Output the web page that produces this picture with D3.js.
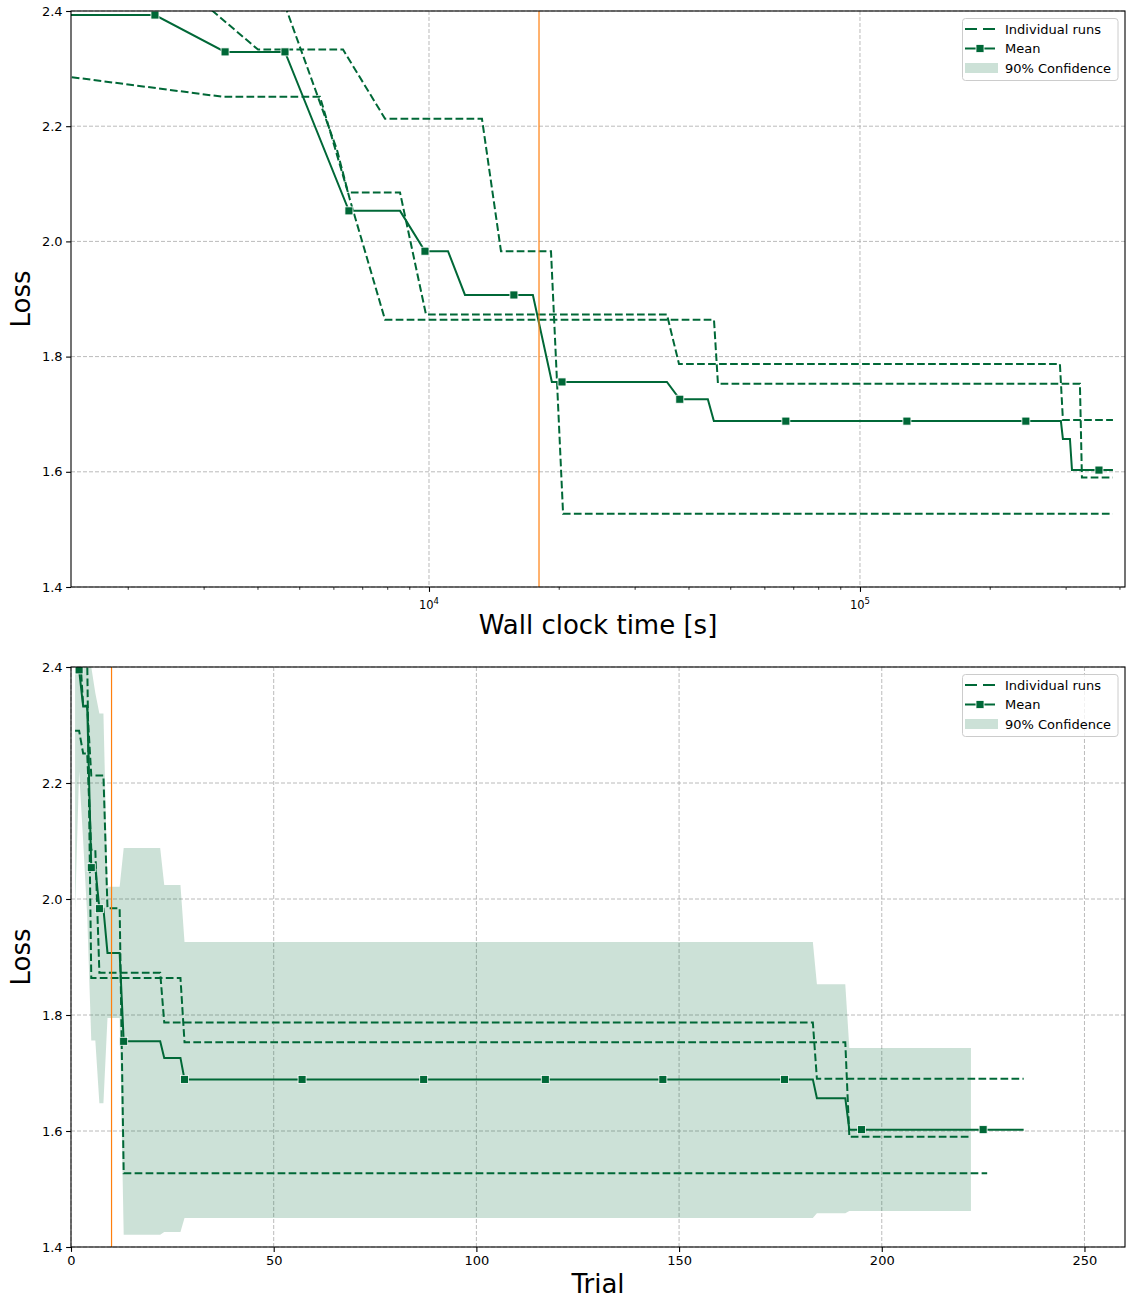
<!DOCTYPE html>
<html>
<head>
<meta charset="utf-8">
<script src="https://cdn.jsdelivr.net/npm/d3@7"></script>
<style>
body { margin: 0; background: #fff; }
svg { font-family: "DejaVu Sans", sans-serif; }
</style>
</head>
<body>
<div id="canvas"></div>
<script>
// ---------- data ----------
var lossTicks = [1.4, 1.6, 1.8, 2.0, 2.2, 2.4];
var timeTicks = [1e4, 1e5];
var trialTicks = [0, 50, 100, 150, 200, 250];

// top panel: vertices (wall clock time [s], loss)
var runATime = [1320, 3327, 5586, 6486, 8566, 9841, 35650, 38030, 291000, 295700, 386300];
var runALoss = [2.29, 2.251, 2.251, 2.085, 2.085, 1.873, 1.873, 1.787, 1.787, 1.69, 1.69];
var runBTime = [2506, 4011, 6318, 7907, 13270, 14690, 19190, 20470, 386300];
var runBLoss = [2.463, 2.333, 2.333, 2.213, 2.213, 1.983, 1.983, 1.527, 1.527];
var runCTime = [4276, 6116, 6557, 7907, 45840, 46820, 323800, 327300, 386300];
var runCLoss = [2.482, 2.159, 2.072, 1.864, 1.864, 1.753, 1.753, 1.59, 1.59];
var meanTime = [1000, 2313, 3364, 4633, 6520, 8566, 9789, 11070, 12120, 17420, 19280, 35650, 38190, 44360, 45810, 292500, 295700, 307000, 310400, 386300];
var meanLoss = [2.393, 2.393, 2.329, 2.329, 2.053, 2.053, 1.983, 1.983, 1.907, 1.907, 1.756, 1.756, 1.726, 1.726, 1.688, 1.688, 1.657, 1.657, 1.603, 1.603];
var meanMarkTime = [2313, 3364, 4633, 6520, 9789, 15740, 20350, 38190, 67300, 128500, 242600, 358500];
var cutoffTime = 18000;

// bottom panel: best loss per trial, given as change points (trial where a value starts)
var runAChange = [1, 3, 5, 7, 23, 184];
var runAVal = [2.29, 2.251, 2.085, 1.873, 1.787, 1.69];
var runALast = 235;
var runBChange = [1, 2, 3, 5, 9, 13];
var runBVal = [2.9, 2.45, 2.333, 2.213, 1.984, 1.527];
var runBLast = 226;
var runCChange = [1, 2, 3, 5, 28, 192];
var runCVal = [2.6, 2.445, 2.412, 1.864, 1.753, 1.59];
var runCLast = 222;
var bandLowChange = [1, 2, 3, 4, 5, 7, 9, 13, 23, 28, 184, 192];
var bandLowVal = [1.976, 2.22, 2.10, 1.97, 1.756, 1.648, 1.795, 1.421, 1.426, 1.45, 1.458, 1.462];
var bandHighChange = [1, 4, 5, 6, 7, 9, 13, 23, 28, 184, 192];
var bandHighVal = [2.6, 2.45, 2.40, 2.355, 2.32, 2.021, 2.088, 2.024, 1.926, 1.853, 1.743];
var bandLast = 222;
var meanLast = 235;
var meanMarkTrial = [2, 5, 7, 13, 28, 57, 87, 117, 146, 176, 195, 225];
var cutoffTrial = 10;

// ---------- helpers ----------
var green = "#006837", orange = "#ff7f0e";
var L = 71, R = 1125;

var svg = d3.select("#canvas").append("svg")
    .attr("width", 1127)
    .attr("height", 1300);

function steps(change, vals, last) {
    var out = [], k = 0;
    for (var t = change[0]; t <= last; t++) {
        while (k + 1 < change.length && change[k + 1] <= t) k++;
        out.push({x: t, y: vals[k]});
    }
    return out;
}

function zipXY(xs, ys) {
    return xs.map((v, i) => ({x: v, y: ys[i]}));
}

function frame(top, bottom, id) {
    var g = svg.append("g");
    g.append("clipPath").attr("id", id)
        .append("rect").attr("x", L).attr("y", top).attr("width", R - L).attr("height", bottom - top);
    return g;
}

function grid(g, x, y, xs, top, bottom) {
    lossTicks.forEach(function(v) {
        g.append("line").attr("x1", L).attr("x2", R).attr("y1", y(v)).attr("y2", y(v))
            .attr("stroke", "#b0b0b0").attr("stroke-width", 1).attr("stroke-dasharray", "4,2").attr("opacity", 0.85);
    });
    xs.forEach(function(v) {
        g.append("line").attr("x1", x(v)).attr("x2", x(v)).attr("y1", top).attr("y2", bottom)
            .attr("stroke", "#b0b0b0").attr("stroke-width", 1).attr("stroke-dasharray", "4,2").attr("opacity", 0.85);
    });
}

function drawRun(g, line, pts, clip) {
    g.append("path").datum(pts)
        .attr("d", line)
        .attr("clip-path", "url(#" + clip + ")")
        .attr("fill", "none")
        .attr("stroke", green)
        .attr("stroke-width", 2)
        .attr("stroke-dasharray", "7.7,3.3");
}

function drawMean(g, line, pts, marks, clip) {
    g.append("path").datum(pts)
        .attr("d", line)
        .attr("clip-path", "url(#" + clip + ")")
        .attr("fill", "none")
        .attr("stroke", green)
        .attr("stroke-width", 2);
    g.append("g").attr("clip-path", "url(#" + clip + ")")
        .selectAll("rect").data(marks).enter().append("rect")
        .attr("x", d => d[0] - 4)
        .attr("y", d => d[1] - 4)
        .attr("width", 8).attr("height", 8)
        .attr("fill", green)
        .attr("stroke", "#fff")
        .attr("stroke-width", 0.8);
}

function yAxis(g, y) {
    var ax = g.append("g").attr("transform", "translate(" + L + ",0)")
        .call(d3.axisLeft(y).tickValues(lossTicks).tickSize(4.9).tickPadding(3.5).tickFormat(d3.format(".1f")));
    ax.select(".domain").remove();
    ax.selectAll("line").attr("stroke", "#000").attr("stroke-width", 1.1);
    ax.selectAll("text").attr("font-size", 13).attr("fill", "#000").attr("font-family", "DejaVu Sans");
}

function spines(g, top, bottom) {
    g.append("rect").attr("x", L).attr("y", top).attr("width", R - L).attr("height", bottom - top)
        .attr("fill", "none").attr("stroke", "#000").attr("stroke-width", 1.1);
}

function legend(g, top) {
    var lg = g.append("g");
    lg.append("rect").attr("x", 962.5).attr("y", top + 7.5).attr("width", 155.5).attr("height", 62)
        .attr("rx", 3).attr("fill", "#fff").attr("fill-opacity", 0.8).attr("stroke", "#cccccc").attr("stroke-width", 1);
    var r1 = top + 18, r2 = top + 37.5, r3 = top + 57;
    lg.append("line").attr("x1", 965).attr("x2", 995).attr("y1", r1).attr("y2", r1)
        .attr("stroke", green).attr("stroke-width", 2).attr("stroke-dasharray", "12,6");
    lg.append("line").attr("x1", 965).attr("x2", 995).attr("y1", r2).attr("y2", r2)
        .attr("stroke", green).attr("stroke-width", 2);
    lg.append("rect").attr("x", 976).attr("y", r2 - 4).attr("width", 8).attr("height", 8)
        .attr("fill", green).attr("stroke", "#fff").attr("stroke-width", 0.8);
    lg.append("rect").attr("x", 965).attr("y", r3 - 5).attr("width", 33).attr("height", 10)
        .attr("fill", green).attr("fill-opacity", 0.2);
    [["Individual runs", r1], ["Mean", r2], ["90% Confidence", r3]].forEach(function(e) {
        lg.append("text").attr("x", 1005).attr("y", e[1]).attr("dy", "0.35em")
            .attr("font-size", 13).attr("fill", "#000").text(e[0]);
    });
}

function yLabel(g, cy) {
    g.append("text").attr("transform", "translate(30," + cy + ") rotate(-90)")
        .attr("text-anchor", "middle").attr("font-size", 26).attr("fill", "#000").text("Loss");
}

// ---------- top panel: wall clock time ----------
var tTop = 11, tBot = 587;
var xT = d3.scaleLog().domain([1477, 412000]).range([L, R]);
var yT = d3.scaleLinear().domain([1.4, 2.4]).range([tBot, tTop]);
var gT = frame(tTop, tBot, "clipTop");
grid(gT, xT, yT, timeTicks, tTop, tBot);

var lineT = d3.line().x(d => xT(d.x)).y(d => yT(d.y));
drawRun(gT, lineT, zipXY(runATime, runALoss), "clipTop");
drawRun(gT, lineT, zipXY(runBTime, runBLoss), "clipTop");
drawRun(gT, lineT, zipXY(runCTime, runCLoss), "clipTop");

function meanAtTime(t) {
    for (var i = 0; i < meanTime.length - 1; i++) {
        if (t >= meanTime[i] && t <= meanTime[i + 1]) {
            var f = (Math.log10(t) - Math.log10(meanTime[i])) / (Math.log10(meanTime[i + 1]) - Math.log10(meanTime[i]));
            return meanLoss[i] + f * (meanLoss[i + 1] - meanLoss[i]);
        }
    }
    return meanLoss[meanLoss.length - 1];
}
drawMean(gT, lineT, zipXY(meanTime, meanLoss), meanMarkTime.map(t => [xT(t), yT(meanAtTime(t))]), "clipTop");

gT.append("line").attr("x1", xT(cutoffTime)).attr("x2", xT(cutoffTime)).attr("y1", tTop).attr("y2", tBot)
    .attr("stroke", orange).attr("stroke-width", 1.2);

yAxis(gT, yT);
var minor = [];
[1e3, 1e4, 1e5].forEach(function(dec) {
    for (var m = 2; m <= 9; m++) {
        var v = dec * m;
        if (v > 1477 && v < 412000) minor.push(v);
    }
});
var axMinor = gT.append("g").attr("transform", "translate(0," + tBot + ")")
    .call(d3.axisBottom(xT).tickValues(minor).tickSize(2.8).tickFormat(""));
axMinor.select(".domain").remove();
axMinor.selectAll("line").attr("stroke", "#000").attr("stroke-width", 0.8);
var axMajor = gT.append("g").attr("transform", "translate(0," + tBot + ")")
    .call(d3.axisBottom(xT).tickValues(timeTicks).tickSize(4.9).tickFormat(""));
axMajor.select(".domain").remove();
axMajor.selectAll("line").attr("stroke", "#000").attr("stroke-width", 1.1);
timeTicks.forEach(function(v) {
    var t = gT.append("text").attr("x", xT(v)).attr("y", tBot + 22).attr("text-anchor", "middle")
        .attr("font-size", 11.5).attr("fill", "#000");
    t.append("tspan").text("10");
    t.append("tspan").attr("dy", -5).attr("font-size", 8.5).text(Math.round(Math.log10(v)));
});
gT.append("text").attr("x", (L + R) / 2).attr("y", 634).attr("text-anchor", "middle")
    .attr("font-size", 26).attr("fill", "#000").text("Wall clock time [s]");
yLabel(gT, (tTop + tBot) / 2);
spines(gT, tTop, tBot);
legend(gT, tTop);

// ---------- bottom panel: trial ----------
var bTop = 667, bBot = 1247;
var xB = d3.scaleLinear().domain([0, 260]).range([L, R]);
var yB = d3.scaleLinear().domain([1.4, 2.4]).range([bBot, bTop]);
var gB = frame(bTop, bBot, "clipBot");
grid(gB, xB, yB, trialTicks, bTop, bBot);

var low = steps(bandLowChange, bandLowVal, bandLast);
var high = steps(bandHighChange, bandHighVal, bandLast);
var band = low.map((d, i) => ({x: d.x, lo: d.y, hi: high[i].y}));
gB.append("path").datum(band)
    .attr("clip-path", "url(#clipBot)")
    .attr("d", d3.area().x(d => xB(d.x)).y0(d => yB(d.lo)).y1(d => yB(d.hi)))
    .attr("fill", green).attr("fill-opacity", 0.2);

var runA = steps(runAChange, runAVal, runALast);
var runB = steps(runBChange, runBVal, runBLast);
var runC = steps(runCChange, runCVal, runCLast);
var lineB = d3.line().x(d => xB(d.x)).y(d => yB(d.y));
drawRun(gB, lineB, runA, "clipBot");
drawRun(gB, lineB, runB, "clipBot");
drawRun(gB, lineB, runC, "clipBot");

// mean over runs, each run padded with its final value
var runs = [runA, runB, runC];
var meanB = d3.range(1, meanLast + 1).map(t => ({x: t, y: d3.mean(runs, r => r[Math.min(t, r.length) - 1].y)}));
drawMean(gB, lineB, meanB, meanMarkTrial.map(t => [xB(t), yB(meanB[t - 1].y)]), "clipBot");

gB.append("line").attr("x1", xB(cutoffTrial)).attr("x2", xB(cutoffTrial)).attr("y1", bTop).attr("y2", bBot)
    .attr("stroke", orange).attr("stroke-width", 1.2);

yAxis(gB, yB);
var axB = gB.append("g").attr("transform", "translate(0," + bBot + ")")
    .call(d3.axisBottom(xB).tickValues(trialTicks).tickSize(4.9).tickPadding(3.5));
axB.select(".domain").remove();
axB.selectAll("line").attr("stroke", "#000").attr("stroke-width", 1.1);
axB.selectAll("text").attr("font-size", 13).attr("fill", "#000").attr("font-family", "DejaVu Sans");
gB.append("text").attr("x", (L + R) / 2).attr("y", 1293).attr("text-anchor", "middle")
    .attr("font-size", 26).attr("fill", "#000").text("Trial");
yLabel(gB, (bTop + bBot) / 2);
spines(gB, bTop, bBot);
legend(gB, bTop);
</script>
</body>
</html>
